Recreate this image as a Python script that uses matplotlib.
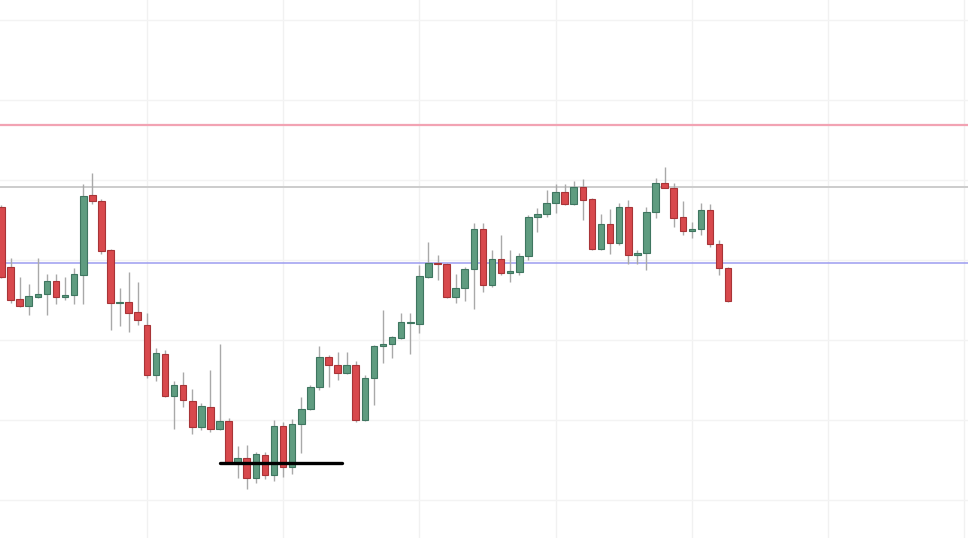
import matplotlib
matplotlib.use("Agg")
import matplotlib.pyplot as plt
import numpy as np

# OHLC values (price units)
opens = [331, 271, 239, 232, 241, 244, 257, 241, 243, 263,
         343, 337, 288, 235, 236, 226, 213, 163, 184, 142,
         153, 137, 111, 131, 109, 117, 75, 80, 60, 83,
         63, 112, 71, 114, 129, 151, 181, 173, 165, 173,
         118, 160, 192, 194, 200, 215, 214, 261, 275, 274,
         241, 250, 269, 309, 253, 279, 265, 266, 282, 321,
         324, 335, 346, 334, 351, 339, 289, 314, 295, 331,
         283, 285, 326, 355, 350, 321, 307, 309, 328, 294,
         270]
highs = [333, 280, 261, 254, 280, 264, 264, 261, 270, 354,
         365, 339, 289, 250, 266, 256, 225, 190, 188, 157,
         166, 149, 135, 168, 194, 120, 92, 93, 86, 86,
         118, 116, 119, 141, 153, 192, 183, 186, 186, 177,
         163, 193, 228, 202, 225, 225, 273, 296, 283, 275,
         264, 271, 315, 315, 288, 303, 288, 285, 323, 330,
         348, 354, 354, 357, 359, 340, 324, 329, 335, 338,
         288, 331, 360, 371, 355, 337, 316, 335, 334, 298,
         271]
lows = [260, 235, 231, 223, 240, 223, 234, 238, 234, 234,
        334, 284, 208, 212, 206, 213, 160, 157, 141, 109,
        131, 104, 108, 106, 108, 75, 60, 49, 55, 59,
        57, 61, 64, 85, 128, 148, 151, 158, 164, 116,
        117, 133, 175, 180, 199, 184, 205, 260, 258, 240,
        235, 237, 229, 246, 251, 263, 256, 263, 278, 306,
        321, 325, 333, 333, 318, 288, 288, 284, 293, 274,
        274, 268, 320, 350, 311, 303, 300, 303, 291, 263,
        236]
closes = [261, 238, 232, 242, 244, 257, 241, 243, 264, 342,
          337, 287, 235, 236, 225, 218, 163, 185, 142, 153,
          138, 111, 132, 109, 117, 76, 80, 60, 84, 63,
          112, 71, 114, 129, 151, 181, 173, 165, 173, 118,
          160, 192, 194, 201, 216, 216, 262, 275, 274, 241,
          250, 269, 309, 253, 279, 265, 267, 282, 321, 324,
          335, 346, 334, 351, 338, 289, 314, 295, 331, 283,
          285, 326, 355, 350, 320, 307, 309, 328, 294, 270,
          237]

level_red = 413
level_gray = 351
level_blue = 275
drawn_line = (24.1, 37.5, 75)

o = np.array(opens, float)
h = np.array(highs, float)
l = np.array(lows, float)
c = np.array(closes, float)
x = np.arange(len(o))
up = c >= o

fig = plt.figure(figsize=(9.68, 5.38), dpi=100)
ax = fig.add_axes([0, 0, 1, 1])
ax.set_facecolor("white")

# faint grid
for gx in np.arange(16, 107, 15):
    ax.axvline(gx, color="#f1f1f1", lw=1.0, zorder=0)
for gy in np.arange(38, 538, 80):
    ax.axhline(gy, color="#f3f3f3", lw=1.0, zorder=0)

# horizontal levels
ax.axhline(level_red, color="#f2a3b3", lw=1.6, zorder=1)
ax.axhline(level_gray, color="#cccccc", lw=1.4, zorder=1)
ax.axhline(level_blue, color="#9c9cf0", lw=1.1, zorder=1)

green_fill, green_edge = "#5f9c80", "#3f7660"
red_fill, red_edge = "#d8494d", "#a83437"

# wicks
ax.vlines(x, l, h, color="#a9a9a9", lw=1.0, zorder=2)

# bodies
heights = np.abs(c - o)
heights = np.maximum(heights, 1.5)
bottoms = np.minimum(o, c)
ax.bar(x[up], heights[up], bottom=bottoms[up], width=0.72,
       color=green_fill, edgecolor=green_edge, linewidth=0.8, zorder=3)
ax.bar(x[~up], heights[~up], bottom=bottoms[~up], width=0.72,
       color=red_fill, edgecolor=red_edge, linewidth=0.8, zorder=3)

# hand-drawn black line
ax.plot([drawn_line[0], drawn_line[1]], [drawn_line[2], drawn_line[2]],
        color="black", lw=2.4, solid_capstyle="round", zorder=4)

ax.set_xlim(-0.165, 106.4)
ax.set_ylim(0, 538)
ax.axis("off")

fig.savefig("out.png", dpi=100, facecolor="white")
